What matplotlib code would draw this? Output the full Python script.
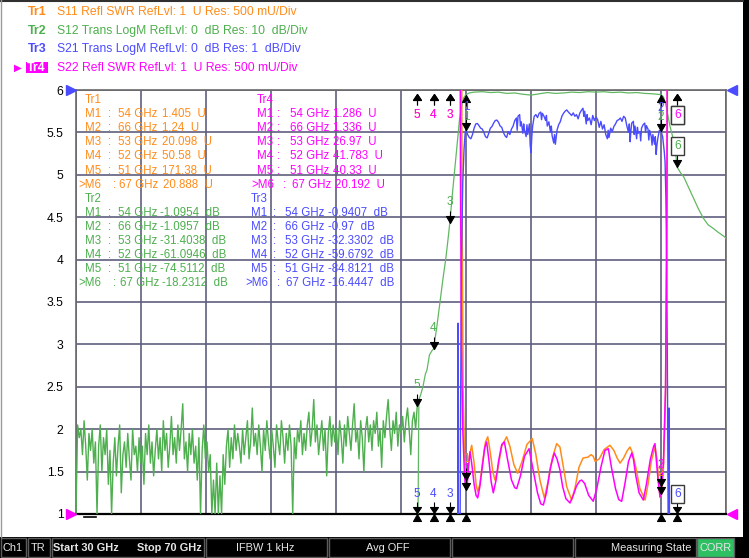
import numpy as np
import matplotlib
matplotlib.use('Agg')
import matplotlib.pyplot as plt
import matplotlib.transforms as mtransforms
from matplotlib.path import Path
from matplotlib.patches import Rectangle

W, H = 749, 558
# grid area in screen pixels (from top-left)
PX0, PX1, PY0, PY1 = 76, 726, 90, 514

start_ghz, stop_ghz = 30, 70
swr_ticks = [6, 5.5, 5, 4.5, 4, 3.5, 3, 2.5, 2, 1.5, 1]
swr_labels = ['6', '5.5', '5', '4.5', '4', '3.5', '3', '2.5', '2', '1.5', '1']

orange = '#ff8c1a'
green = '#4daf4d'
blue = '#4b4bff'
magenta = '#ff00ff'

# Tr2 S12 noise floor, 30.0 .. 51.0 GHz every 0.1 GHz (dB)
s12_floor_db = [
    -100, -79, -82, -80, -86, -78, -84, -92, -81, -85, -80,
    -88, -83, -100, -84, -79, -90, -82, -86, -80, -93,
    -85, -100, -88, -82, -91, -84, -79, -95, -86, -83,
    -89, -81, -87, -92, -80, -86, -84, -90, -82, -88,
    -84, -93, -81, -86, -79, -88, -83, -91, -85, -80,
    -87, -82, -90, -78, -85, -81, -89, -84, -77, -86,
    -82, -88, -79, -85, -80, -74, -87, -83, -90, -81,
    -86, -80, -88, -84, -92, -82, -100, -85, -79, -87,
    -83, -90, -86, -100, -92, -100, -88, -100, -91, -100,
    -86, -93, -84, -80, -89, -82, -87, -79, -85, -81,
    -84, -88, -80, -86, -82, -78, -87, -83, -75, -84,
    -81, -86, -79, -84, -90, -80, -85, -78, -83, -87,
    -80, -84, -89, -79, -83, -86, -78, -82, -88, -81,
    -85, -79, -84, -100, -82, -87, -80, -83, -78, -86,
    -81, -85, -79, -76, -84, -80, -73, -83, -79, -86,
    -82, -78, -85, -80, -91, -81, -77, -84, -79, -83,
    -80, -86, -78, -82, -88, -79, -84, -77, -81, -85,
    -79, -74, -83, -80, -87, -78, -82, -90, -80, -77,
    -83, -79, -85, -78, -81, -76, -84, -80, -89, -78,
    -82, -77, -73, -80, -85, -78, -81, -76, -84, -79,
    -81, -77, -83, -78, -75, -80, -86, -78, -76, -80, -74.5,
]
# Tr2 S12 from the band edge on (GHz, dB)
s12_freq = [51.05, 51.1, 51.2, 51.35, 51.5, 51.6, 51.75, 51.9, 52.0, 52.2, 52.4,
            52.6, 52.75, 52.9, 53.0, 53.2, 53.4, 53.6, 53.75, 53.85, 54.0, 54.2,
            54.5, 55.0, 55.5, 56.0, 56.5, 57.0, 57.5, 58.0, 58.5, 59.0, 59.5,
            60.0, 60.5, 61.0, 61.5, 62.0, 62.5, 63.0, 63.5, 64.0, 64.5, 65.0,
            65.5, 66.0, 66.15, 66.3, 66.45, 66.55, 66.75, 66.9, 67.0, 67.2,
            67.4, 67.7, 68.0, 68.3, 68.6, 68.9, 69.2, 69.5, 69.9, 70.0]
s12_db = [-100, -73, -72, -70, -67, -66, -62.5, -61.5, -61.1, -56, -50,
          -44, -40, -35, -31.4, -23, -15, -7, -3.5, -1.9, -1.0954, -0.7,
          -0.5, -0.4, -0.6, -0.5, -0.8, -0.7, -1.0, -1.2, -0.9, -0.6, -0.8,
          -0.7, -0.5, -0.6, -0.4, -0.5, -0.4, -0.6, -0.5, -0.7, -0.6, -0.8,
          -0.9, -1.0957, -1.6, -3.5, -6.5, -8.5, -11.5, -15, -18.23, -19.5,
          -20.5, -23, -25.5, -28, -30.2, -31.8, -32.6, -33.5, -34.6, -35]

# Tr3 S21 (GHz, dB)
s21_freq = [52.0, 53.0, 53.45, 53.51, 53.56, 53.66, 53.72, 53.8, 53.88, 53.95, 54.0,
            54.1, 54.2, 54.3, 54.4, 54.5, 54.6, 54.7, 54.8, 54.9, 55.0,
            55.1, 55.2, 55.3, 55.4, 55.5, 55.6, 55.7, 55.8, 55.9, 56.0,
            56.1, 56.2, 56.3, 56.4, 56.5, 56.6, 56.7, 56.8, 56.9, 57.0,
            57.1, 57.15, 57.2, 57.3, 57.35, 57.4, 57.5, 57.55, 57.6, 57.7,
            57.75, 57.8, 57.9, 57.95, 58.0, 58.05, 58.1, 58.2, 58.3, 58.4,
            58.5, 58.6, 58.65, 58.7, 58.8, 58.9, 58.95, 59.0, 59.1, 59.2,
            59.25, 59.3, 59.4, 59.45, 59.5, 59.6, 59.7, 59.8, 59.9, 60.0,
            60.1, 60.2, 60.3, 60.4, 60.5, 60.6, 60.7, 60.8, 60.9, 61.0,
            61.1, 61.2, 61.25, 61.3, 61.4, 61.45, 61.5, 61.6, 61.7, 61.8,
            61.9, 62.0, 62.1, 62.2, 62.3, 62.4, 62.5, 62.6, 62.7, 62.75,
            62.8, 62.9, 63.0, 63.1, 63.2, 63.3, 63.4, 63.5, 63.6, 63.7,
            63.8, 63.9, 64.0, 64.05, 64.1, 64.15, 64.2, 64.3, 64.35, 64.4,
            64.5, 64.55, 64.6, 64.7, 64.75, 64.8, 64.9, 65.0, 65.05, 65.1,
            65.2, 65.25, 65.3, 65.4, 65.45, 65.5, 65.6, 65.65, 65.7, 65.75,
            65.8, 65.9, 66.0, 66.1, 66.2, 66.25, 66.3, 66.35, 66.4, 66.45,
            66.5, 66.55, 67.0, 68.0, 70.0]
s21_db = [-59.7, -32.3, -20, -5.5, -18, -8, -4, -2.2, -1.4, -1.0, -0.9407,
          -1.05, -1.12, -1.15, -1.05, -0.90, -0.80, -0.79, -0.84, -0.90, -0.92,
          -1.00, -1.10, -1.13, -1.02, -0.90, -0.86, -0.78, -0.72, -0.71, -0.76,
          -0.85, -0.88, -1.00, -1.08, -1.12, -0.98, -1.05, -0.92, -0.85, -0.72,
          -0.66, -0.95, -0.62, -0.58, -0.85, -0.75, -1.02, -0.80, -0.95, -1.10,
          -0.82, -1.05, -0.80, -1.30, -1.48, -1.10, -0.85, -0.62, -0.58, -0.65,
          -0.55, -0.52, -0.70, -0.55, -0.62, -0.72, -0.60, -0.85, -0.75, -1.00,
          -0.85, -1.08, -1.25, -1.05, -1.28, -0.95, -0.82, -0.75, -0.62, -0.55,
          -0.50, -0.47, -0.52, -0.56, -0.60, -0.54, -0.62, -0.58, -0.68, -0.55,
          -0.48, -0.43, -0.62, -0.50, -0.80, -0.58, -0.72, -0.66, -0.82, -0.60,
          -0.72, -0.64, -0.70, -0.88, -0.74, -0.92, -0.82, -1.05, -1.15, -0.95,
          -1.12, -0.90, -0.98, -0.86, -0.80, -0.72, -0.70, -0.66, -0.74, -0.62,
          -0.66, -0.85, -1.00, -0.80, -1.22, -0.95, -0.78, -0.74, -1.05, -0.85,
          -1.15, -0.88, -1.02, -0.98, -1.20, -0.90, -0.82, -0.78, -1.00, -0.84,
          -0.92, -1.18, -0.95, -1.10, -1.30, -1.05, -1.28, -1.10, -1.52, -1.30,
          -1.15, -0.95, -0.97, -1.10, -1.45, -1.69, -2.5, -4.0, -7.0, -11,
          -7.5, -14, -16.4447, -22, -28]

# Tr1 S11 SWR (GHz, U)
s11_freq = [51.0, 52.0, 53.0, 53.5, 53.68, 53.75, 53.82, 53.9, 53.96, 54.0, 54.08,
            54.2, 54.35, 54.5, 54.62, 54.72, 54.85, 55.0, 55.2, 55.34, 55.5,
            55.65, 55.78, 55.95, 56.2, 56.5, 56.7, 56.95, 57.18, 57.45, 57.75,
            58.08, 58.3, 58.55, 58.82, 59.05, 59.3, 59.58, 59.78, 59.95, 60.2,
            60.5, 60.7, 60.95, 61.2, 61.5, 61.7, 61.83, 61.95, 62.2, 62.5,
            62.86, 63.1, 63.3, 63.48, 63.7, 63.9, 64.09, 64.25, 64.45, 64.7,
            65.02, 65.2, 65.4, 65.63, 65.75, 65.85, 65.94, 66.04, 66.15, 66.28,
            66.38, 66.45, 66.52, 67.0, 70.0]
s11_swr = [171.38, 50.58, 20.098, 30, 12, 5, 2.5, 1.75, 1.5, 1.405, 1.45,
           1.68, 1.81, 1.6, 1.35, 1.26, 1.35, 1.58, 1.85, 1.91, 1.72,
           1.50, 1.40, 1.52, 1.80, 1.91, 1.80, 1.58, 1.48, 1.62, 1.82,
           1.89, 1.70, 1.40, 1.19, 1.38, 1.65, 1.83, 1.79, 1.60, 1.32,
           1.165, 1.30, 1.55, 1.66, 1.67, 1.70, 1.68, 1.62, 1.65, 1.76,
           1.81, 1.75, 1.66, 1.60, 1.66, 1.74, 1.79, 1.72, 1.55, 1.30,
           1.165, 1.35, 1.62, 1.79, 1.65, 1.40, 1.20, 1.24, 1.55, 2.4,
           5, 12, 30, 20.888, 20]

# Tr4 S22 SWR (GHz, U)
s22_freq = [51.0, 52.0, 53.0, 53.5, 53.62, 53.66, 53.72, 53.8, 53.9, 53.96, 54.0,
            54.06, 54.15, 54.25, 54.35, 54.5, 54.62, 54.72, 54.85, 55.0, 55.15,
            55.27, 55.4, 55.55, 55.68, 55.85, 56.0, 56.2, 56.36, 56.55, 56.8,
            57.0, 57.12, 57.35, 57.6, 57.88, 58.1, 58.4, 58.6, 58.76, 58.95,
            59.2, 59.43, 59.6, 59.78, 59.95, 60.15, 60.4, 60.6, 60.8, 61.0,
            61.12, 61.3, 61.55, 61.83, 62.05, 62.3, 62.55, 62.76, 62.95, 63.2,
            63.4, 63.58, 63.8, 64.0, 64.2, 64.3, 64.45, 64.65, 64.91, 65.1,
            65.35, 65.55, 65.63, 65.72, 65.82, 65.94, 66.04, 66.15, 66.28, 66.36,
            66.42, 66.5, 67.0, 70.0]
s22_swr = [40.33, 41.783, 26.97, 30, 9, 5, 3, 2.0, 1.5, 1.32, 1.286,
           1.30, 1.55, 1.735, 1.6, 1.35, 1.22, 1.19, 1.32, 1.55, 1.78,
           1.85, 1.65, 1.38, 1.25, 1.40, 1.62, 1.82, 1.85, 1.65, 1.40,
           1.31, 1.30, 1.45, 1.68, 1.77, 1.55, 1.25, 1.12, 1.106, 1.25,
           1.55, 1.72, 1.65, 1.52, 1.32, 1.18, 1.13, 1.22, 1.33, 1.39,
           1.40, 1.36, 1.22, 1.15, 1.30, 1.55, 1.75, 1.77, 1.55, 1.30,
           1.17, 1.15, 1.38, 1.62, 1.72, 1.65, 1.45, 1.25, 1.165, 1.35,
           1.65, 1.80, 1.83, 1.62, 1.40, 1.20, 1.336, 1.6, 2.5, 4.5,
           10, 30, 20.192, 20]

# marker table
marker_freq = [54, 66, 53, 52, 51, 67]
tr1_mk = [1.405, 1.24, 20.098, 50.58, 171.38, 20.888]
tr4_mk = [1.286, 1.336, 26.97, 41.783, 40.33, 20.192]
tr2_mk = [-1.0954, -1.0957, -31.4038, -61.0946, -74.5112, -18.2312]
tr3_mk = [-0.9407, -0.97, -32.3302, -59.6792, -84.8121, -16.4447]

headers = [('Tr1', 'S11 Refl SWR RefLvl: 1  U Res: 500 mU/Div', orange),
           ('Tr2', 'S12 Trans LogM RefLvl: 0  dB Res: 10  dB/Div', green),
           ('Tr3', 'S21 Trans LogM RefLvl: 0  dB Res: 1  dB/Div', blue),
           ('Tr4', 'S22 Refl SWR RefLvl: 1  U Res: 500 mU/Div', magenta)]


def db_to_grid(db, per_div):
    # LogM traces share the SWR grid: ref 0 dB at the top line, 0.5 U per division
    return 6 + np.asarray(db) / per_div * 0.5


plt.rcParams['font.family'] = ['Liberation Sans', 'DejaVu Sans']
FS = 8.3

fig = plt.figure(figsize=(W / 100, H / 100), dpi=100)
fig.patch.set_facecolor('white')


def fx(x):
    return x / W


def fy(y):
    return 1 - y / H


ax = fig.add_axes([fx(PX0), fy(PY1), (PX1 - PX0) / W, (PY1 - PY0) / H])
ax.set_xlim(start_ghz, stop_ghz)
ax.set_ylim(1, 6)
ax.set_xticks(np.arange(start_ghz, stop_ghz + 1, 4))
ax.set_yticks(swr_ticks)
ax.set_yticklabels(swr_labels, fontsize=FS + 0.4)
ax.tick_params(axis='x', length=0, labelbottom=False)
ax.tick_params(axis='y', length=0, pad=9)
ax.grid(True, color='#5f5f7e', lw=1.2)
ax.set_axisbelow(True)
for s in ['top', 'left', 'right']:
    ax.spines[s].set_color('#6a6a6a')
    ax.spines[s].set_linewidth(1.2)
ax.spines['bottom'].set_color('black')
ax.spines['bottom'].set_linewidth(1.6)

# traces
s12_floor_freq = np.linspace(30, 51, len(s12_floor_db))
ax.plot(s11_freq, s11_swr, color=orange, lw=1.1, zorder=3)
ax.plot(s12_floor_freq, db_to_grid(s12_floor_db, 10), color=green, lw=1.0, zorder=3)
ax.plot(s12_freq, db_to_grid(s12_db, 10), color='#62b862', lw=0.9, zorder=3)
ax.plot(s21_freq, db_to_grid(s21_db, 1), color=blue, lw=1.0, zorder=3)
ax.plot(s22_freq, s22_swr, color=magenta, lw=1.1, zorder=4)


def arrow(verts, closed_n=4):
    codes = [Path.MOVETO, Path.LINETO, Path.LINETO, Path.CLOSEPOLY]
    if len(verts) > 4:
        codes += [Path.MOVETO, Path.LINETO]
    m = np.abs(np.array(verts, float)).max()
    return Path(verts, codes), 1.44 * m


down_data = arrow([(0, 0), (-4, 7), (4, 7), (0, 0), (0, 7), (0, 12)])
up_data = arrow([(0, 0), (-4, -7), (4, -7), (0, 0), (0, -7), (0, -11)])
up_top = arrow([(0, -4), (-4, -10), (4, -10), (0, -4), (0, -10), (0, -15)])
down_bottom = arrow([(0, 1), (-4, 7), (4, 7), (0, 1), (0, 7), (0, 12)])
up_below = arrow([(0, 0), (-4, -7), (4, -7), (0, 0)])

top_trans = mtransforms.blended_transform_factory(ax.transData, ax.transAxes)


def put(f, v, style, trans=None):
    path, ms = style
    ax.plot([f], [v], marker=path, ms=ms, color='black', mec='black', mew=0.8,
            ls='none', clip_on=False, zorder=6, transform=trans or ax.transData)


def label(f, v, text, color, dy, boxed=False, trans=None):
    kw = dict(xy=(f, v), xycoords=trans or ax.transData, xytext=(0, dy),
              textcoords='offset pixels', ha='center', va='center', color=color,
              fontsize=FS + 0.3, annotation_clip=False, zorder=7)
    if boxed:
        kw['bbox'] = dict(boxstyle='square,pad=0.25', fc='white', ec='#3a3a3a', lw=1.0)
    ax.annotate(text, **kw)


names = ['1', '2', '3', '4', '5', '6']
# SWR traces: on screen -> arrow to point, above -> arrow at top edge
for vals, col in [(tr1_mk, orange), (tr4_mk, magenta)]:
    for f, v, n in zip(marker_freq, vals, names):
        if v <= 6:
            put(f, v, down_data)
            label(f, v, n, col, 21)
        else:
            put(f, 1, up_top, top_trans)
            label(f, 1, n, col, -25, boxed=(n == '6'), trans=top_trans)

# S12 (10 dB/div)
for f, d, n in zip(marker_freq, tr2_mk, names):
    v = db_to_grid(d, 10)
    if v > 5.9:
        put(f, v, up_data)
        label(f, v, n, green, -22)
    else:
        put(f, v, down_data)
        label(f, v, n, green, 21, boxed=(n == '6'))

# S21 (1 dB/div)
for f, d, n in zip(marker_freq, tr3_mk, names):
    v = db_to_grid(d, 1)
    if v >= 1:
        put(f, v, down_data)
        label(f, v, n, blue, 23)
    else:
        put(f, 0, down_bottom, top_trans)
        label(f, 0, n, blue, 20, boxed=(n == '6'), trans=top_trans)

# stimulus indicators under the grid
for f in marker_freq:
    put(f, 0, up_below, top_trans)

# reference position arrows
side = mtransforms.blended_transform_factory(ax.transAxes, ax.transData)
ax.plot([0], [6], marker='>', ms=7, color=blue, transform=mtransforms.offset_copy(
    side, fig=fig, x=-5, y=0, units='dots'), clip_on=False, zorder=8)
ax.plot([1], [6], marker='<', ms=7, color=blue, transform=mtransforms.offset_copy(
    side, fig=fig, x=6, y=0, units='dots'), clip_on=False, zorder=8)
ax.plot([0], [1], marker='>', ms=7, color=magenta, transform=mtransforms.offset_copy(
    side, fig=fig, x=-5, y=0, units='dots'), clip_on=False, zorder=8)
ax.plot([1], [1], marker='<', ms=7, color=magenta, transform=mtransforms.offset_copy(
    side, fig=fig, x=6, y=0, units='dots'), clip_on=False, zorder=8)
fig.add_artist(plt.Line2D([fx(84), fx(96)], [fy(517), fy(517)], color='black', lw=1.2))

# marker readout table
row_y = [100 + 14.1 * i for i in range(14)]


def table(x_name, x_col, x_freq, x_val, y0, title, vals, unit, fmt, color, m6_shift):
    fig.text(fx(x_name), fy(row_y[y0]), title, color=color, fontsize=FS, va='center')
    for i, (f, v) in enumerate(zip(marker_freq, vals)):
        y = fy(row_y[y0 + 1 + i])
        sh = m6_shift if i == 5 else (0, 0, 0, 0)
        nm = '>M6' if i == 5 else 'M%d' % (i + 1)
        fig.text(fx(x_name + sh[0]), y, nm, color=color, fontsize=FS, va='center')
        fig.text(fx(x_col + sh[1]), y, ':', color=color, fontsize=FS, va='center')
        fig.text(fx(x_freq + sh[2]), y, '%d GHz' % f, color=color, fontsize=FS, va='center')
        fig.text(fx(x_val + sh[3]), y, fmt(v) + '  ' + unit, color=color, fontsize=FS, va='center')


fmt_u = lambda v: ('%g' % v)
fmt_db = lambda v: ('%g' % v)
table(85, 108, 118, 162, 0, 'Tr1', tr1_mk, 'U', fmt_u, orange, (-7, 5, 1, 1))
table(257, 277, 290, 333, 0, 'Tr4', tr4_mk, 'U', fmt_u, magenta, (-6, 6, 2, 2))
table(85, 108, 118, 160, 7, 'Tr2', tr2_mk, 'dB', fmt_db, green, (-7, 5, 2, 2))
table(251, 273, 285, 328, 7, 'Tr3', tr3_mk, 'dB', fmt_db, blue, (-6, 4, 1, 0))

# channel header lines
head_y = [12, 31, 49, 68]
for (tr, txt, col), y in zip(headers, head_y):
    if tr == 'Tr4':
        fig.patches.append(Rectangle((fx(26), fy(73)), 22 / W, 11 / H, transform=fig.transFigure,
                                     fc=magenta, ec='none'))
        fig.text(fx(27), fy(y), tr, color='white', fontsize=FS + 0.6, weight='bold', va='center')
        fig.text(fx(14), fy(y), '\u25B6', color=magenta, fontsize=FS - 1, va='center')
    else:
        fig.text(fx(28), fy(y), tr, color=col, fontsize=FS + 0.6, weight='bold', va='center')
    fig.text(fx(57), fy(y), txt, color=col, fontsize=FS + 0.4, va='center')

# window frame
fig.patches.append(Rectangle((fx(743), fy(537)), 6 / W, 537 / H, transform=fig.transFigure,
                             fc='black', ec='none'))
fig.add_artist(plt.Line2D([0, fx(743)], [fy(0.5), fy(0.5)], color='#303030', lw=1.5))
fig.add_artist(plt.Line2D([fx(0.8), fx(0.8)], [fy(537), 1], color='#9a9a9a', lw=1.0))

# status bar
fig.patches.append(Rectangle((0, 0), 1, 21 / H, transform=fig.transFigure, fc='black', ec='none'))
boxes = [(0, 25), (27, 49), (51, 203), (205, 326), (328, 449), (451, 572), (574, 695)]
for x0, x1 in boxes:
    fig.patches.append(Rectangle((fx(x0 + 0.5), fy(557)), (x1 - x0) / W, 19 / H,
                                 transform=fig.transFigure, fc='black', ec='#5c5c5c', lw=1.0))
fig.patches.append(Rectangle((fx(697), fy(557)), 37 / W, 19 / H, transform=fig.transFigure,
                             fc='#2fbf63', ec='#5c5c5c', lw=1.0))
sb = dict(color='#e6e6e6', fontsize=7.9, va='center')
fig.text(fx(12.5), fy(548), 'Ch1', ha='center', **sb)
fig.text(fx(38), fy(548), 'TR', ha='center', **sb)
fig.text(fx(53), fy(548), 'Start 30 GHz', ha='left', weight='bold', **sb)
fig.text(fx(202), fy(548), 'Stop 70 GHz', ha='right', weight='bold', **sb)
fig.text(fx(265), fy(548), 'IFBW 1 kHz', ha='center', **sb)
fig.text(fx(388), fy(548), 'Avg OFF', ha='center', **sb)
fig.text(fx(691), fy(548), 'Measuring State', ha='right', **sb)
fig.text(fx(715.5), fy(548), 'CORR', ha='center', **sb)

fig.savefig('out.png', dpi=100, facecolor='white')
